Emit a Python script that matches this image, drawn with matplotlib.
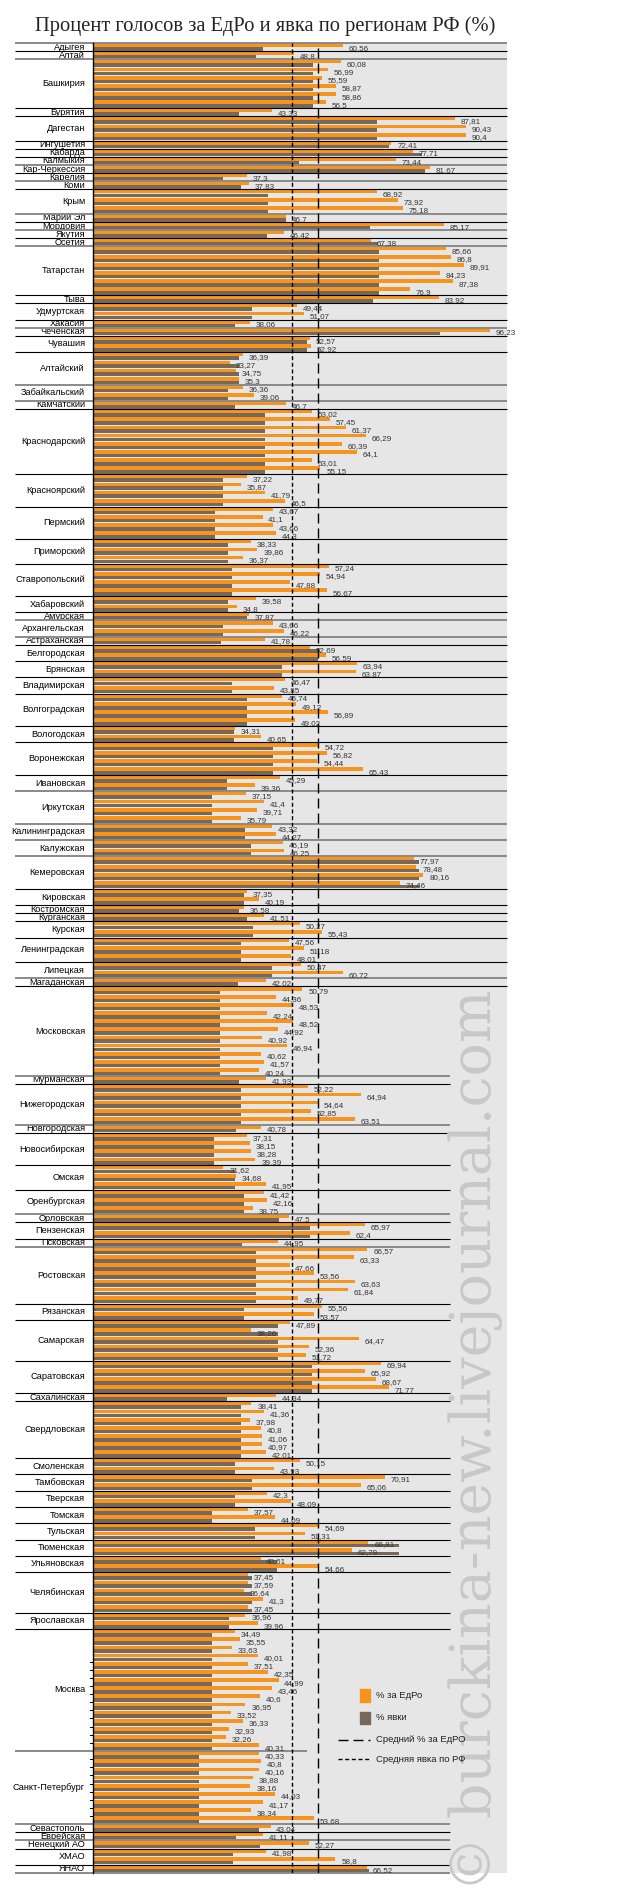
import numpy as np
import matplotlib.pyplot as plt
from matplotlib.lines import Line2D
from matplotlib.patches import Rectangle

plt.rcParams['font.family'] = ['Liberation Sans', 'DejaVu Sans']

# regions in chart order, turnout per region (%), United Russia % per district
regions = ["Адыгея", "Алтай", "Башкирия", "Бурятия", "Дагестан", "Ингушетия", "Кабарда",
           "Калмыкия", "Кар-Черкессия", "Карелия", "Коми", "Крым", "Марий Эл", "Мордовия",
           "Якутия", "Осетия", "Татарстан", "Тыва", "Удмуртская", "Хакасия", "Чеченская",
           "Чувашия", "Алтайский", "Забайкальский", "Камчатский", "Краснодарский",
           "Красноярский", "Пермский", "Приморский", "Ставропольский", "Хабаровский",
           "Амурская", "Архангельская", "Астраханская", "Белгородская", "Брянская",
           "Владимирская", "Волгоградская", "Вологодская", "Воронежская", "Ивановская",
           "Иркутская", "Калининградская", "Калужская", "Кемеровская", "Кировская",
           "Костромская", "Курганская", "Курская", "Ленинградская", "Липецкая",
           "Магаданская", "Московская", "Мурманская", "Нижегородская", "Новгородская",
           "Новосибирская", "Омская", "Оренбургская", "Орловская", "Пензенская",
           "Псковская", "Ростовская", "Рязанская", "Самарская", "Саратовская",
           "Сахалинская", "Свердловская", "Смоленская", "Тамбовская", "Тверская",
           "Томская", "Тульская", "Тюменская", "Ульяновская", "Челябинская",
           "Ярославская", "Москва", "Санкт-Петербург", "Севастополь", "Еврейская",
           "Ненецкий АО", "ХМАО", "ЯНАО"]

turnout = [41.3, 39.5, 53.3, 35.3, 69.0, 71.9, 79.9, 50.0, 80.6, 31.6, 35.9, 42.4,
           46.8, 67.3, 42.1, 69.2, 69.4, 67.9, 38.5, 34.3, 84.1, 52.0,
           35.5, 32.8, 34.5, 41.7, 31.6, 29.6, 32.6, 33.6, 32.8,
           37.3, 31.6, 31.0, 54.5, 45.8, 33.8, 37.4, 34.1, 43.7, 32.4, 28.9,
           36.9, 38.2, 79.1, 36.6, 35.5, 37.4, 38.9, 35.9, 43.3, 35.1, 30.8, 35.3,
           35.9, 34.6, 29.3, 34.3, 36.6, 45.0, 52.7, 36.1, 39.5, 36.6, 44.8, 53.1,
           32.4, 35.9, 34.3, 38.5, 34.5, 28.9, 39.3, 74.3, 44.7, 38.6, 33.0,
           28.8, 25.6, 40.3, 34.7, 40.6, 34.0, 67.0]

edro = [[60.56], [48.8], [60.08, 56.99, 55.59, 58.87, 58.86, 56.5], [43.33],
        [87.81, 90.43, 90.4], [72.41], [77.71], [73.44], [81.67], [37.3], [37.83],
        [68.92, 73.92, 75.18], [46.7], [85.17], [46.42], [67.38],
        [85.66, 86.8, 89.91, 84.23, 87.38, 76.9], [83.92], [49.44, 51.07], [38.06],
        [96.23], [52.57, 52.92],
        [36.39, 33.27, 34.75, 35.3], [36.36, 39.06], [46.7],
        [53.02, 57.45, 61.37, 66.29, 60.39, 64.1, 53.01, 55.15],
        [37.22, 35.87, 41.79, 46.5], [43.67, 41.1, 43.66, 44.3], [38.33, 39.86, 36.37],
        [57.24, 54.94, 47.88, 56.67], [39.58, 34.8],
        [37.87], [43.66, 46.22], [41.78], [52.69, 56.59], [63.94, 63.87],
        [46.47, 43.85], [45.74, 49.12, 56.89, 49.02], [34.31, 40.65],
        [54.72, 56.82, 54.44, 65.43], [45.29, 39.36], [37.15, 41.4, 39.71, 35.79],
        [43.32, 44.27], [46.19, 46.25], [77.97, 78.48, 80.16, 74.46], [37.35, 40.19],
        [36.58], [41.51], [50.27, 55.43], [47.56, 51.18, 48.01], [50.47, 60.72],
        [42.02],
        [50.79, 44.36, 48.53, 42.24, 48.52, 44.92, 40.92, 46.94, 40.62, 41.57, 40.24],
        [41.93], [52.22, 64.94, 54.64, 52.85, 63.51], [40.78],
        [37.31, 38.15, 38.28, 39.39], [31.62, 34.68, 41.95], [41.42, 42.16, 38.75],
        [47.5], [65.97, 62.4], [44.95],
        [66.57, 63.33, 47.66, 53.56, 63.63, 61.84, 49.77], [55.56, 53.57],
        [47.89, 38.26, 64.47, 52.36, 51.72], [69.94, 65.92, 68.67, 71.77], [44.34],
        [38.41, 41.36, 37.98, 40.8, 41.06, 40.97, 42.01],
        [50.15, 43.93], [70.91, 65.06], [42.3, 48.09], [37.57, 44.09], [54.69, 51.31],
        [66.81, 62.79], [40.61, 54.66], [37.45, 37.59, 36.64, 41.3, 37.45],
        [36.96, 39.96],
        [34.49, 35.55, 33.63, 40.01, 37.51, 42.35, 44.99, 43.46, 40.6, 36.95, 33.52,
         36.33, 32.93, 32.26, 40.31],
        [40.33, 40.8, 40.16, 38.88, 38.16, 44.03, 41.17, 38.34, 53.68],
        [43.04], [41.11], [52.27], [41.98, 58.8], [66.52]]

avg_edro = 54.65
avg_turnout = 48.2

# separators drawn in soft grey (top border of these groups)
soft_lines = {"Адыгея", "Башкирия", "Кар-Черкессия", "Коми", "Марий Эл", "Якутия",
              "Татарстан", "Чеченская", "Забайкальский", "Камчатский", "Архангельская",
              "Астраханская", "Иркутская", "Калининградская", "Калужская", "Кемеровская",
              "Магаданская", "Мурманская", "Новгородская", "Орловская", "Ростовская",
              "Санкт-Петербург", "Севастополь", "Ненецкий АО"}

ORANGE = '#F7941D'
GRAY = '#76685B'
PANEL = '#E6E6E6'

W, H = 640, 1893
AX_L, AX_R, AX_T, AX_B = 93.3, 506.7, 43, 1873


def fx(px):
    return px / W


def fy(py):
    return 1 - py / H


def main():
    fig = plt.figure(figsize=(W / 100, H / 100), dpi=100)
    ax = fig.add_axes([fx(AX_L), fy(AX_B), (AX_R - AX_L) / W, (AX_B - AX_T) / H])
    ax.set_facecolor(PANEL)

    starts, vals, turn = [], [], []
    for t, vs in zip(turnout, edro):
        starts.append(len(vals))
        vals.extend(vs)
        turn.extend([t] * len(vs))
    n = len(vals)
    y = np.arange(n)

    ax.set_xlim(0, 100.4)
    ax.set_ylim(n - 0.5, -0.5)
    for s in ['top', 'right', 'bottom']:
        ax.spines[s].set_visible(False)
    ax.spines['left'].set_linewidth(1.0)
    ax.spines['left'].set_zorder(6)
    ax.set_xticks([])
    ax.set_yticks([])

    ax.barh(y - 0.23, vals, height=0.46, color=ORANGE, zorder=2)
    ax.barh(y + 0.23, turn, height=0.44, color=GRAY, zorder=2)

    ax.axvline(avg_edro, color='black', lw=1.0, dashes=(7.2, 3.6), zorder=4)
    ax.axvline(avg_turnout, color='black', lw=1.0, dashes=(2.9, 1.9), zorder=4)

    for yi, v in zip(y, vals):
        ax.text(v + 1.4, yi + 0.15, f"{v:g}".replace('.', ','), fontsize=5.8,
                color='#333333', ha='left', va='center', zorder=5)

    trans = ax.get_yaxis_transform()
    left = (15 - AX_L) / (AX_R - AX_L)
    short = (450 - AX_L) / (AX_R - AX_L)
    i_short = regions.index("Мурманская")
    for k, (name, s) in enumerate(zip(regions, starts)):
        m = len(edro[k])
        ax.text(-0.02, s + (m - 1) / 2, name, transform=trans, ha='right', va='center',
                fontsize=6.6, color='black')
        if name == "Санкт-Петербург":
            xmax = (307 - AX_L) / (AX_R - AX_L)
        elif k >= i_short:
            xmax = short
        else:
            xmax = 1.0
        if name in soft_lines:
            ax.hlines(s - 0.5, left, xmax, transform=trans, colors='#8a8a8a',
                      linewidth=1.4, clip_on=False, zorder=3)
        else:
            ax.hlines(s - 0.5, left, xmax, transform=trans, colors='black',
                      linewidth=0.8, clip_on=False, zorder=3)
        if name in ("Москва", "Санкт-Петербург"):
            first = 4 if name == "Москва" else 1
            for j in range(first, m):
                ax.plot([-0.008, 0], [s + j - 0.5] * 2, transform=trans, color='black',
                        lw=0.7, clip_on=False, zorder=6)
    ax.hlines(n - 0.5, left, short, transform=trans, colors='#8a8a8a', linewidth=1.4,
              clip_on=False, zorder=3)

    # legend
    fig.add_artist(Rectangle((fx(360), fy(1702)), 10 / W, 13 / H, color=ORANGE,
                             transform=fig.transFigure))
    fig.add_artist(Rectangle((fx(360), fy(1724)), 10 / W, 12 / H, color=GRAY,
                             transform=fig.transFigure))
    fig.add_artist(Line2D([fx(338), fx(370)], [fy(1740)] * 2, color='black', lw=1.0,
                          dashes=(7.2, 3.6), transform=fig.transFigure))
    fig.add_artist(Line2D([fx(338), fx(370)], [fy(1759)] * 2, color='black', lw=1.0,
                          dashes=(2.9, 1.9), transform=fig.transFigure))
    leg_text = ["% за ЕдРо", "% явки", "Средний % за ЕдРО", "Средняя явка по РФ"]
    for txt, py in zip(leg_text, [1696, 1718, 1740, 1759]):
        fig.text(fx(376), fy(py), txt, fontsize=6.8, color='#222222', ha='left', va='center')

    fig.text(fx(265), fy(26), "Процент голосов за ЕдРо и явка по регионам РФ (%)",
             family=['Liberation Serif', 'DejaVu Serif'], fontsize=14.8, ha='center',
             va='center', color='#222222')

    fig.text(fx(491), fy(1440), "© burckina-new.livejournal.com", family='DejaVu Serif',
             fontsize=40, color='#c8c8c8', rotation=90, rotation_mode='anchor',
             ha='center', va='baseline', zorder=1)

    fig.savefig("out.png", dpi=100)
    plt.close(fig)


if __name__ == "__main__":
    main()
